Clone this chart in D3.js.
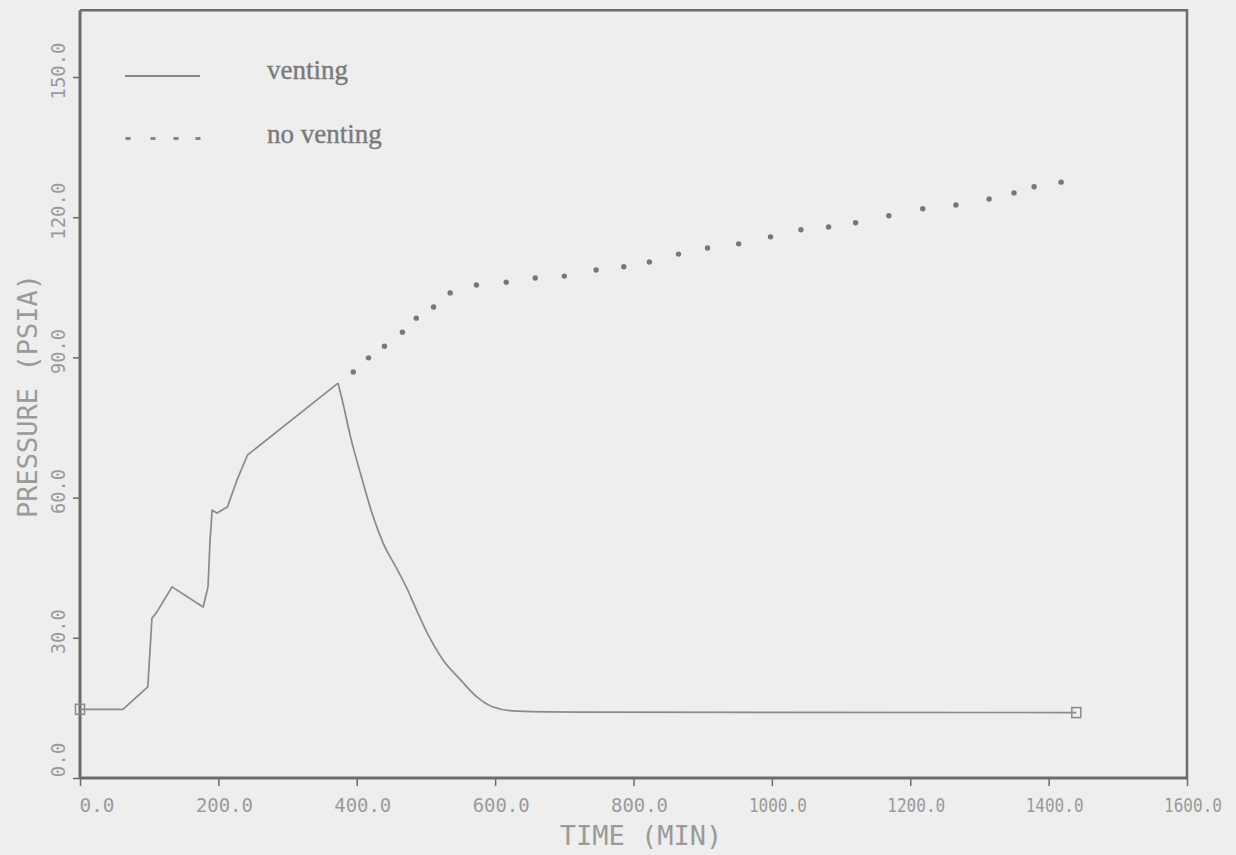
<!DOCTYPE html>
<html>
<head>
<meta charset="utf-8">
<script src="https://cdn.jsdelivr.net/npm/d3@7"></script>
<style>
  html, body { margin: 0; padding: 0; background: #eeeeee; }
  svg { display: block; }
</style>
</head>
<body>
<svg id="chart" width="1236" height="855"></svg>
<script>
// Containment pressure history, vented vs. unvented case
const ventTime = [0, 62, 98, 104, 111, 133, 178, 185, 188, 191, 198, 213, 227, 242, 373, 379, 391, 408, 422, 438, 459, 475, 482, 502, 525, 550, 574, 597, 632, 723, 1440];
const ventPressure = [14.7, 14.7, 19.5, 34.2, 35.5, 40.9, 36.6, 40.9, 50.9, 57.3, 56.7, 58.0, 63.8, 69.1, 84.5, 80.9, 73.0, 63.8, 56.7, 50.3, 44.5, 39.8, 37.4, 31.0, 25.2, 21.0, 17.3, 15.2, 14.3, 14.1, 14.0];

const noVentTime = [395, 417, 440, 466, 486, 511, 535, 573, 616, 658, 700, 746, 786, 823, 865, 907, 952, 998, 1042, 1082, 1121, 1169, 1218, 1266, 1314, 1350, 1379, 1418];
const noVentPressure = [86.9, 89.9, 92.4, 95.4, 98.4, 100.8, 103.8, 105.5, 106.1, 107.0, 107.4, 108.7, 109.4, 110.4, 112.1, 113.4, 114.3, 115.8, 117.3, 117.9, 118.8, 120.3, 121.8, 122.6, 123.9, 125.2, 126.5, 127.5];

const xTicks = [0, 200, 400, 600, 800, 1000, 1200, 1400, 1600];
const xTickLabels = ["0.0", "200.0", "400.0", "600.0", "800.0", "1000.0", "1200.0", "1400.0", "1600.0"];
const yTicks = [0, 30, 60, 90, 120, 150];
const yTickLabels = ["0.0", "30.0", "60.0", "90.0", "120.0", "150.0"];
const yTop = 164.3;

const legendLabels = ["venting", "no venting"];

const svg = d3.select("#chart");
const x = d3.scaleLinear().domain([0, 1600]).range([80, 1187]);
const y = d3.scaleLinear().domain([0, 150]).range([778, 77]);

const axisColor = "#6c6c6c";
const textColor = "#9a9a9a";
const lineColor = "#8a8a8a";
const mono = "'DejaVu Sans Mono', 'Liberation Mono', monospace";

// plotter glyph widths: narrower than the screen font
const labelWidth = s => ({ 3: 35, 4: 45, 5: 57, 6: 58 })[s.length];

// plot frame (top and right edges)
svg.append("path")
  .attr("d", `M${x(0)},${y(yTop)} L${x(1600)},${y(yTop)} L${x(1600)},${y(0)}`)
  .attr("fill", "none").attr("stroke", axisColor).attr("stroke-width", 2.5);

// bottom axis
const xAxis = svg.append("g").attr("transform", `translate(0,${y(0)})`)
  .call(d3.axisBottom(x).tickValues(xTicks).tickSize(8).tickFormat(""));
xAxis.select(".domain").attr("stroke", axisColor).attr("stroke-width", 3)
  .attr("d", `M${x(0)},0H${x(1600)}`);
xAxis.selectAll(".tick line").attr("stroke", axisColor).attr("stroke-width", 1.5);

const xShift = d => d === 0 ? 17 : 6;
svg.append("g").selectAll("text").data(xTicks).join("text")
  .attr("x", d => x(d) + xShift(d))
  .attr("y", 812)
  .attr("text-anchor", "middle")
  .attr("font-family", mono).attr("font-size", 20)
  .attr("textLength", (d, i) => labelWidth(xTickLabels[i]))
  .attr("lengthAdjust", "spacingAndGlyphs")
  .attr("fill", textColor)
  .text((d, i) => xTickLabels[i]);

// left axis
const yAxis = svg.append("g").attr("transform", `translate(${x(0)},0)`)
  .call(d3.axisLeft(y).tickValues(yTicks).tickSize(7).tickFormat(""));
yAxis.select(".domain").attr("stroke", axisColor).attr("stroke-width", 3)
  .attr("d", `M0,${y(0)}V${y(yTop)}`);
yAxis.selectAll(".tick line").attr("stroke", axisColor).attr("stroke-width", 1.5);

const yShift = d => d === 0 ? -18 : -6;
svg.append("g").selectAll("text").data(yTicks).join("text")
  .attr("transform", d => `translate(65,${y(d) + yShift(d)}) rotate(-90)`)
  .attr("text-anchor", "middle")
  .attr("font-family", mono).attr("font-size", 20)
  .attr("textLength", (d, i) => labelWidth(yTickLabels[i]))
  .attr("lengthAdjust", "spacingAndGlyphs")
  .attr("fill", textColor)
  .text((d, i) => yTickLabels[i]);

// axis titles
svg.append("text")
  .attr("x", 641).attr("y", 845)
  .attr("text-anchor", "middle")
  .attr("font-family", mono).attr("font-size", 27)
  .attr("fill", textColor)
  .text("TIME (MIN)");

svg.append("text")
  .attr("transform", "translate(37,396) rotate(-90)")
  .attr("text-anchor", "middle")
  .attr("font-family", mono).attr("font-size", 27)
  .attr("fill", textColor)
  .text("PRESSURE (PSIA)");

// vented case: piecewise-linear build-up, smooth blow-down after the vent opens
const vent = ventTime.map((t, i) => ({ t, p: ventPressure[i] }));
const peakIdx = d3.maxIndex(vent, d => d.p);
const buildUp = vent.slice(0, peakIdx + 1);
const blowDown = vent.slice(peakIdx);

svg.append("path")
  .datum(buildUp)
  .attr("fill", "none").attr("stroke", lineColor).attr("stroke-width", 1.7)
  .attr("stroke-linejoin", "round")
  .attr("d", d3.line().x(d => x(d.t)).y(d => y(d.p)));

svg.append("path")
  .datum(blowDown)
  .attr("fill", "none").attr("stroke", lineColor).attr("stroke-width", 1.7)
  .attr("d", d3.line().curve(d3.curveMonotoneX).x(d => x(d.t)).y(d => y(d.p)));

svg.append("g").selectAll("rect").data([vent[0], vent[vent.length - 1]]).join("rect")
  .attr("x", d => x(d.t) - 4.5).attr("y", d => y(d.p) - 5)
  .attr("width", 9).attr("height", 10)
  .attr("fill", "none").attr("stroke", lineColor).attr("stroke-width", 1.5);

// unvented case: dotted points
const noVent = noVentTime.map((t, i) => ({ t, p: noVentPressure[i] }));
svg.append("g").selectAll("circle").data(noVent).join("circle")
  .attr("cx", d => x(d.t)).attr("cy", d => y(d.p))
  .attr("r", 2.7).attr("fill", "#777777");

// legend
const legend = svg.append("g");
legend.append("line")
  .attr("x1", 125).attr("x2", 200).attr("y1", 76).attr("y2", 76)
  .attr("stroke", "#858585").attr("stroke-width", 2.2);
legend.selectAll("rect.key").data([128, 153, 176, 198]).join("rect")
  .attr("class", "key")
  .attr("x", d => d - 2.5).attr("y", 137).attr("width", 5).attr("height", 3)
  .attr("fill", "#858585");
legend.selectAll("text").data(legendLabels).join("text")
  .attr("x", 267)
  .attr("y", (d, i) => i === 0 ? 79 : 143)
  .attr("font-family", "'Liberation Serif', 'Times New Roman', serif")
  .attr("font-size", 27)
  .attr("fill", "#7a7a7a")
  .attr("stroke", "#7a7a7a").attr("stroke-width", 0.4)
  .text(d => d);
</script>
</body>
</html>
